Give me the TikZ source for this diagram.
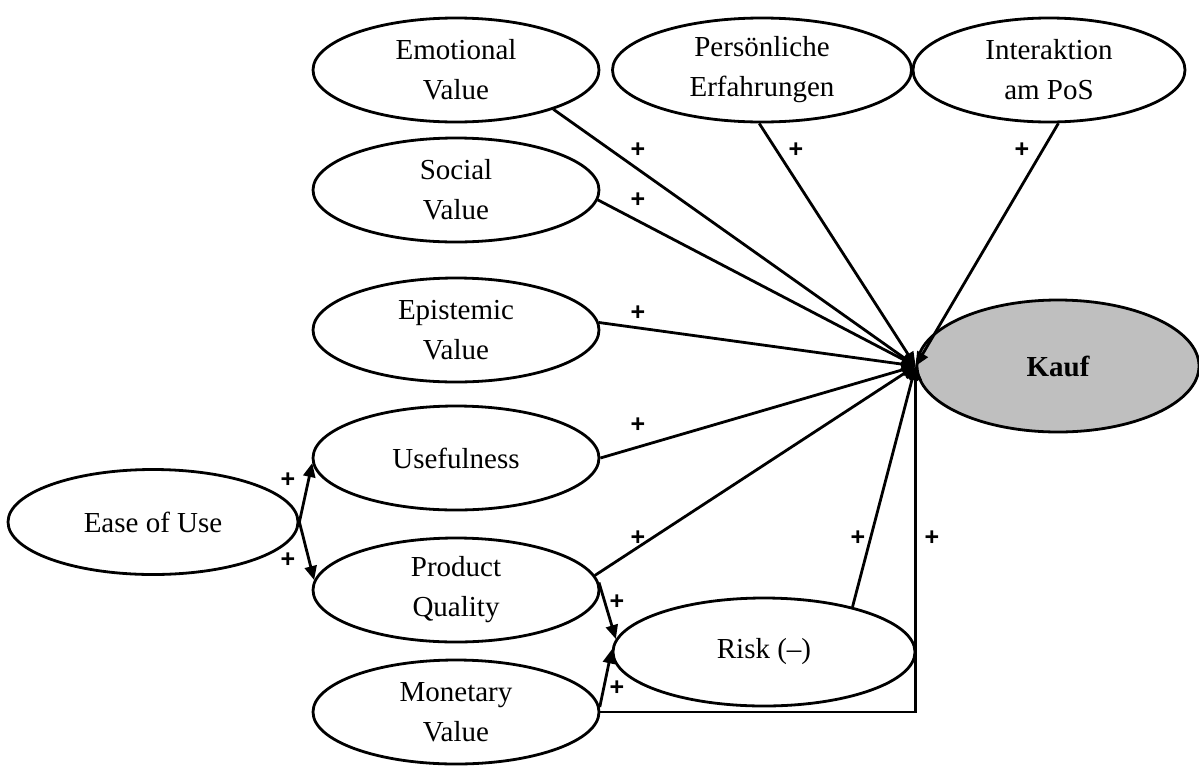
\documentclass[tikz,border=0pt]{standalone}
\usepackage{fontspec}
\setmainfont{Liberation Serif}
\newfontfamily\signfont{Liberation Sans}
\usetikzlibrary{arrows.meta,shapes.geometric}
\begin{document}
\begin{tikzpicture}[x=1pt,y=-1pt,
  oval/.style={ellipse, draw, line width=2.8pt, fill=white, inner sep=0pt,
    minimum width=286pt, minimum height=104pt, align=center,
    font=\fontsize{29}{40}\selectfont},
  link/.style={line width=2.8pt, -{Triangle[length=14pt,width=12pt]}},
  sign/.style={font=\signfont\bfseries\fontsize{25}{25}\selectfont, inner sep=0pt}]
\useasboundingbox (0,0) rectangle (1199,769);

% constructs
\node[oval] (emo) at (456,70) {Emotional\\Value};
\node[oval, minimum width=299pt] (pers) at (762,70) {Persönliche\\Erfahrungen};
\node[oval, minimum width=272pt] (inter) at (1049,70) {Interaktion\\am PoS};
\node[oval] (soc) at (456,190) {Social\\Value};
\node[oval] (epi) at (456,330) {Epistemic\\Value};
\node[oval] (use) at (456,458) {Usefulness};
\node[oval, minimum width=290pt, minimum height=105pt] (ease) at (153,522) {Ease of Use};
\node[oval] (pq) at (456,590) {Product\\Quality};
\node[oval] (mon) at (456,712) {Monetary\\Value};
\node[oval, minimum width=302pt, minimum height=108pt] (risk) at (764,652) {Risk (--)};
\node[oval, fill=black!25, minimum width=282pt, minimum height=132pt,
  font=\fontsize{29}{40}\selectfont\bfseries] (kauf) at (1058,366) {Kauf};

% paths into the purchase decision
\draw[link] (emo.-22) -- (kauf.west);
\draw[link] (pers.-93) -- (kauf.west);
\draw[link] (inter.-80) -- (kauf.west);
\draw[link] (soc.-4) -- (kauf.west);
\draw[link] (epi.3) -- (kauf.west);
\draw[link] (use.0) -- (kauf.west);
\draw[link] (pq.6) -- (kauf.west);
\draw[link] (risk.27) -- (kauf.west);
\draw[link] (mon.east) -| (kauf.west);

% ease of use effects
\draw[link] (ease.east) -- (use.182);
\draw[link] (ease.east) -- (pq.176);

% risk antecedents
\draw[link] (pq.3) -- (risk.175);
\draw[link] (mon.2) -- (risk.179);

% signs
\node[sign] at (638,150) {+};
\node[sign] at (796,150) {+};
\node[sign] at (1022,150) {+};
\node[sign] at (638,200) {+};
\node[sign] at (638,313) {+};
\node[sign] at (638,425) {+};
\node[sign] at (638,538) {+};
\node[sign] at (858,538) {+};
\node[sign] at (932,538) {+};
\node[sign] at (288,480) {+};
\node[sign] at (288,560) {+};
\node[sign] at (617,602) {+};
\node[sign] at (617,688) {+};
\end{tikzpicture}
\end{document}
